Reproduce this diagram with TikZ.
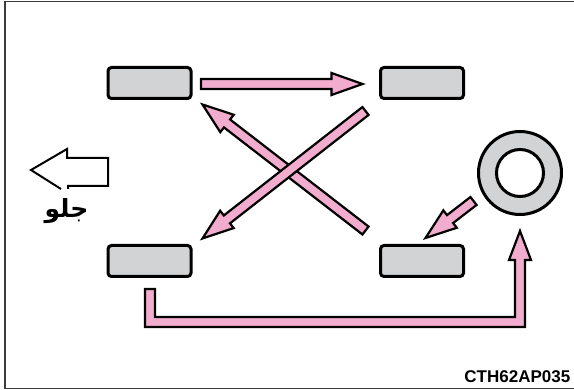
\documentclass[tikz,border=0pt]{standalone}
\usepackage{fontspec}
\setmainfont{Liberation Sans}
\newfontfamily\arabicfont[Script=Arabic]{DejaVu Sans}
\TeXXeTstate=1
\usepackage{xcolor}
\usetikzlibrary{calc}
\definecolor{tyregray}{RGB}{209,211,212}
\definecolor{arrowpink}{RGB}{242,172,205}
\definecolor{framegray}{RGB}{60,60,60}
% fat outlined arrow from #1 (tail) to #2 (tip)
\newcommand{\pinkarrow}[2]{%
  \coordinate (hb) at ($(#2)!31pt!(#1)$);
  \filldraw[fat] ($(#1)!5pt!90:(#2)$) -- ($(hb)!5pt!90:(#2)$)
    -- ($(hb)!11pt!90:(#2)$) -- (#2) -- ($(hb)!11pt!-90:(#2)$)
    -- ($(hb)!5pt!-90:(#2)$) -- ($(#1)!5pt!-90:(#2)$) -- cycle;
}

\begin{document}
\begin{tikzpicture}[
  x=1pt, y=-1pt,
  tyre/.style={draw, line width=3pt, fill=tyregray, rounded corners=3.5pt,
               minimum width=83pt, minimum height=31pt, inner sep=0pt},
  ring/.style={circle, draw, line width=3pt, inner sep=0pt},
  fat/.style={draw=black, fill=arrowpink, line width=2.2pt},
  frame/.style={draw=framegray, line width=1.5pt},
  lbl/.style={font=\bfseries\fontsize{17}{17}\selectfont, inner sep=0pt},
]
\useasboundingbox (0,0) rectangle (574,390);
\draw[frame] (574,1.5) -- (5,1.5) -- (5,388.5) -- (574,388.5);
% wheels on the car
\node[tyre] (fl) at (149.5,83) {};
\node[tyre] (fr) at (422,83) {};
\node[tyre] (rl) at (149.5,261) {};
\node[tyre] (rr) at (422,261) {};
% spare wheel
\node[ring, fill=tyregray, minimum size=83pt] (spare) at (520,173) {};
\node[ring, fill=white, minimum size=47pt] (hub) at (spare) {};
% arrow ends
\coordinate (ts) at (201,84);     \coordinate (te) at (362.5,84);
\coordinate (as) at (365.5,230.5); \coordinate (ae) at (202.5,104.5);
\coordinate (bs) at (365.5,111);   \coordinate (be) at (202.5,238.5);
\coordinate (ss) at (473.5,201);   \coordinate (se) at (425.5,238);
\coordinate (ls) at (150,289);     \coordinate (le) at (520,231);
% rotation arrows
\pinkarrow{ts}{te}
\pinkarrow{as}{ae}
\pinkarrow{bs}{be}
\pinkarrow{ss}{se}
\filldraw[fat] ($(ls)+(-5,0)$) -- ($(ls)+(5,0)$) -- (155,317) -- (515,317)
  -- (515,260) -- (509,260) -- (le) -- (531,260) -- (525,260) -- (525,327)
  -- (145,327) -- cycle;
% forward direction
\draw[line width=2pt] (61,189) -- (31,170) -- (67,149) -- (67,158) -- (108,158)
  -- (108,186) -- (68,186) -- (68,189);
\node[inner sep=0pt, font=\arabicfont\bfseries\fontsize{25}{25}\selectfont]
  (fwd) at (66.5,211) {\beginR جلو\endR};
% figure code
\node[lbl, anchor=base east] (code) at (570.5,382.5) {CTH62AP035};
\end{tikzpicture}
\end{document}
